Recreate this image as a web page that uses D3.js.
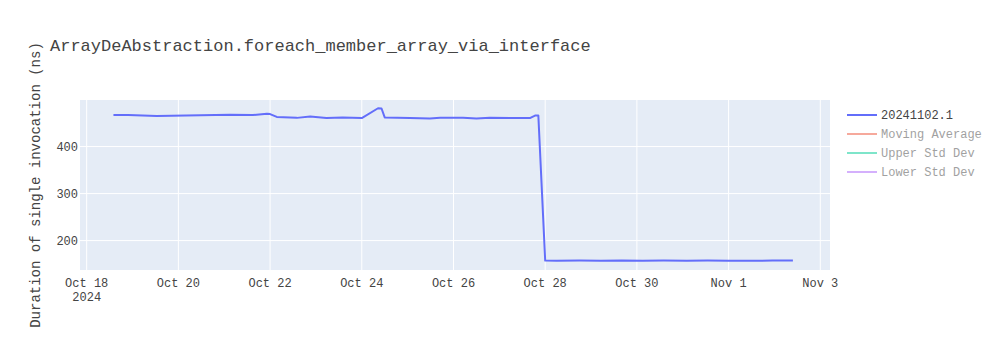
<!DOCTYPE html>
<html>
<head>
<meta charset="utf-8">
<script src="https://cdn.jsdelivr.net/npm/d3@7"></script>
<style>
  body { margin: 0; background: #fff; }
  text { font-family: "Liberation Mono", "Courier New", monospace; }
</style>
</head>
<body>
<div id="chart"></div>
<script>
var w = 1000;
var h = 350;

var title = "ArrayDeAbstraction.foreach_member_array_via_interface";
var yTitle = "Duration of single invocation (ns)";

// run timestamps (UTC) and durations in ns
var times = [
  "2024-10-18T14:00", "2024-10-18T21:45", "2024-10-19T12:40", "2024-10-21T03:00",
  "2024-10-21T15:00", "2024-10-21T22:20", "2024-10-22T00:00", "2024-10-22T03:30",
  "2024-10-22T14:00", "2024-10-22T21:00", "2024-10-23T05:30", "2024-10-23T14:00",
  "2024-10-24T00:00", "2024-10-24T08:30", "2024-10-24T10:20", "2024-10-24T12:00",
  "2024-10-25T01:10", "2024-10-25T11:40", "2024-10-25T17:00", "2024-10-26T05:00",
  "2024-10-26T12:00", "2024-10-26T19:00", "2024-10-27T16:00", "2024-10-27T18:40",
  "2024-10-27T20:25", "2024-10-28T00:00", "2024-10-28T06:00", "2024-10-28T18:00",
  "2024-10-29T05:00", "2024-10-29T16:00", "2024-10-30T03:00", "2024-10-30T14:00",
  "2024-10-31T02:00", "2024-10-31T13:00", "2024-11-01T00:00", "2024-11-01T12:00",
  "2024-11-01T23:00", "2024-11-02T09:40"
];
var durations = [
  467, 467, 465, 467.5,
  467, 470, 469, 463,
  461, 464, 460.5, 462,
  460.5, 481.5, 481, 462,
  460.5, 459.6, 461, 461,
  459.6, 461, 460.5, 466,
  466, 157.5, 157.3, 157.6,
  157.2, 157.8, 157.4, 157.5,
  157.3, 157.6, 157.4, 157.2,
  157.5, 157.9
];

var xTicks = ["2024-10-18", "2024-10-20", "2024-10-22", "2024-10-24", "2024-10-26",
              "2024-10-28", "2024-10-30", "2024-11-01", "2024-11-03"];
var yTicks = [200, 300, 400];

var legendNames = ["20241102.1", "Moving Average", "Upper Std Dev", "Lower Std Dev"];
var legendColors = ["#636efa", "#EF553B", "#00cc96", "#ab63fa"];
var legendVisible = [true, false, false, false];

var margin = {left: 80, right: 170, top: 100, bottom: 80};
var pw = w - margin.left - margin.right;
var ph = h - margin.top - margin.bottom;

var parse = d3.utcParse("%Y-%m-%dT%H:%M");
var parseDay = d3.utcParse("%Y-%m-%d");

var data = times.map(function(t, i) {
  return {t: parse(t), v: durations[i]};
});

var x = d3.scaleUtc()
  .domain([parse("2024-10-17T20:30"), parse("2024-11-03T05:05")])
  .range([0, pw]);
var y = d3.scaleLinear()
  .domain([137.5, 499])
  .range([ph, 0]);

var svg = d3.select("#chart").append("svg")
  .attr("width", w)
  .attr("height", h);

svg.append("text")
  .attr("x", 50)
  .attr("y", 51)
  .attr("font-size", 17)
  .attr("fill", "#444")
  .text(title);

var g = svg.append("g")
  .attr("transform", "translate(" + margin.left + "," + margin.top + ")");

g.append("rect")
  .attr("width", pw)
  .attr("height", ph)
  .attr("fill", "#e5ecf6");

var xTickDates = xTicks.map(function(d) { return parseDay(d); });
var fmt = d3.utcFormat("%b %-d");

// grid lines
g.selectAll(".xgrid")
  .data(xTickDates)
  .enter()
  .append("line")
  .attr("x1", function(d) { return x(d); })
  .attr("x2", function(d) { return x(d); })
  .attr("y1", 0)
  .attr("y2", ph)
  .attr("stroke", "#fff")
  .attr("stroke-width", 1);

g.selectAll(".ygrid")
  .data(yTicks)
  .enter()
  .append("line")
  .attr("x1", 0)
  .attr("x2", pw)
  .attr("y1", function(d) { return y(d); })
  .attr("y2", function(d) { return y(d); })
  .attr("stroke", "#fff")
  .attr("stroke-width", 1);

// x tick labels
var xl = g.selectAll(".xlab")
  .data(xTickDates)
  .enter()
  .append("text")
  .attr("text-anchor", "middle")
  .attr("font-size", 12)
  .attr("fill", "#444")
  .attr("y", ph + 17);
xl.append("tspan")
  .attr("x", function(d) { return x(d); })
  .text(function(d) { return fmt(d); });
xl.filter(function(d, i) { return i === 0; })
  .append("tspan")
  .attr("x", function(d) { return x(d); })
  .attr("dy", 14)
  .text(function(d) { return d.getUTCFullYear(); });

// y tick labels
g.selectAll(".ylab")
  .data(yTicks)
  .enter()
  .append("text")
  .attr("x", -2)
  .attr("y", function(d) { return y(d) + 4; })
  .attr("text-anchor", "end")
  .attr("font-size", 12)
  .attr("fill", "#444")
  .text(function(d) { return d; });

svg.append("text")
  .attr("transform", "translate(40," + (margin.top + ph / 2) + ") rotate(-90)")
  .attr("text-anchor", "middle")
  .attr("font-size", 14)
  .attr("fill", "#444")
  .text(yTitle);

var line = d3.line()
  .x(function(d) { return x(d.t); })
  .y(function(d) { return y(d.v); });

g.append("path")
  .datum(data)
  .attr("d", line)
  .attr("fill", "none")
  .attr("stroke", "#636efa")
  .attr("stroke-width", 2)
  .attr("stroke-linejoin", "round");

// legend
var lg = svg.selectAll(".leg")
  .data(legendNames)
  .enter()
  .append("g")
  .attr("transform", function(d, i) { return "translate(847," + (115 + i * 19) + ")"; })
  .attr("opacity", function(d, i) { return legendVisible[i] ? 1 : 0.5; });
lg.append("line")
  .attr("x1", 0)
  .attr("x2", 30)
  .attr("stroke", function(d, i) { return legendColors[i]; })
  .attr("stroke-width", 2);
lg.append("text")
  .attr("x", 34)
  .attr("y", 4)
  .attr("font-size", 12)
  .attr("fill", "#444")
  .text(function(d) { return d; });
</script>
</body>
</html>
